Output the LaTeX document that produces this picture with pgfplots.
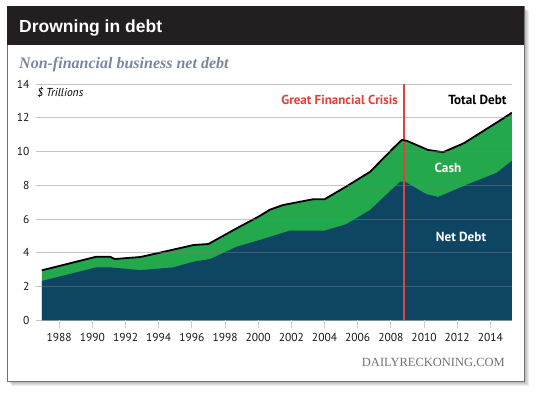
\documentclass[border=0pt]{standalone}
\usepackage{pgfplots}
\usepackage{pgfplotstable}
\pgfplotsset{compat=1.18}
\usepackage{fontspec}
\setmainfont{PT Sans}
\newfontfamily\titlefont{Liberation Sans}
\newfontfamily\seriffont{Liberation Serif}
\definecolor{cashgreen}{RGB}{35,168,75}
\definecolor{debtblue}{RGB}{14,69,98}
\definecolor{crisisred}{RGB}{226,65,58}
\definecolor{titlebar}{RGB}{35,31,32}
\definecolor{subtitle}{RGB}{122,135,161}

\pgfplotstableread{
year total
1986.95 2.96
1990.25 3.77
1991.05 3.77
1991.35 3.63
1992.90 3.75
1993.90 3.97
1996.10 4.46
1997.00 4.52
1998.70 5.45
2000.00 6.13
2000.50 6.43
2000.70 6.55
2001.50 6.83
2003.30 7.17
2004.00 7.17
2005.30 7.92
2006.75 8.80
2008.15 10.20
2008.65 10.68
2008.95 10.64
2010.25 10.09
2011.15 9.96
2012.40 10.49
2014.60 11.85
2015.30 12.30
}\totaldata

\pgfplotstableread{
year net
1986.95 2.33
1990.25 3.14
1991.05 3.14
1992.90 2.97
1994.90 3.14
1996.10 3.47
1997.10 3.63
1998.70 4.36
2000.10 4.76
2001.90 5.31
2004.00 5.31
2005.30 5.69
2006.75 6.54
2008.55 8.21
2008.85 8.21
2010.15 7.47
2010.85 7.31
2012.55 8.02
2014.40 8.75
2015.30 9.46
}\netdata

\begin{document}
\begin{tikzpicture}
\useasboundingbox (0,0) rectangle (540pt,395pt);
% shadow
\foreach \i in {1,...,5}{
  \fill[black,opacity=0.07] (7.3pt+\i pt,14pt-\i pt) rectangle (524pt+\i pt,389pt-\i pt);
}
\fill[white] (7.3pt,14pt) rectangle (524pt,389pt);
\draw[black!55,line width=0.8pt] (7.3pt,14pt) rectangle (524pt,389pt);
\fill[titlebar] (7.3pt,350pt) rectangle (524pt,389pt);
\node[anchor=base west,inner sep=0pt,text=white,font=\titlefont\bfseries\fontsize{17.5}{18}\selectfont] at (19pt,362.3pt) {Drowning in debt};
\node[anchor=base west,inner sep=0pt,text=subtitle,font=\seriffont\bfseries\itshape\fontsize{16}{17}\selectfont] at (19pt,326.7pt) {Non-financial business net debt};

\begin{axis}[
  at={(36pt,74.7pt)}, anchor=south west, scale only axis,
  width=475.9pt, height=236.3pt,
  xmin=1986.6, xmax=2015.3, ymin=0, ymax=14,
  xtick={1988,1990,...,2014}, ytick={0,2,...,14},
  axis line style={draw=none},
  ymajorgrids, grid style={gray, opacity=0.45, line width=0.8pt},
  tick align=outside,
  xtick pos=bottom, ytick pos=left,
  major tick length=8pt,
  xtick style={color=black!20, line width=1pt},
  ytick style={draw=none},
  axis on top,
  /pgf/number format/assume math mode=true,
  /pgf/number format/1000 sep={},
  tick label style={font=\fontsize{11.5}{12}\selectfont, text=black!90},
  xticklabel style={yshift=-1pt},
  yticklabel style={xshift=5pt},
]
\addplot[fill=cashgreen, draw=none] table[x=year,y=total]{\totaldata} \closedcycle;
\addplot[fill=debtblue, draw=none] table[x=year,y=net]{\netdata} \closedcycle;
\addplot[crisisred, line width=2pt] coordinates {(2008.8,0) (2008.8,14)};
\addplot[black, line width=1.8pt, line join=round] table[x=year,y=total]{\totaldata};
\end{axis}

\node[anchor=base west,inner sep=0pt,font=\itshape\fontsize{11.5}{12}\selectfont] at (37pt,298.5pt) {\$ Trillions};
\node[anchor=base east,inner sep=0pt,text=crisisred,font=\bfseries\fontsize{13}{14}\selectfont] at (398pt,290pt) {Great Financial Crisis};
\node[anchor=base east,inner sep=0pt,font=\bfseries\fontsize{13.2}{14}\selectfont] at (506.7pt,290pt) {Total Debt};
\node[inner sep=0pt,text=white,font=\bfseries\fontsize{13.2}{14}\selectfont] at (448pt,227pt) {Cash};
\node[inner sep=0pt,text=white,font=\bfseries\fontsize{13.2}{14}\selectfont] at (461pt,158pt) {Net Debt};
\node[anchor=base east,inner sep=0pt,text=black!55,font=\seriffont\fontsize{12.5}{13}\selectfont] at (505pt,28pt) {DAILYRECKONING.COM};
\end{tikzpicture}
\end{document}
